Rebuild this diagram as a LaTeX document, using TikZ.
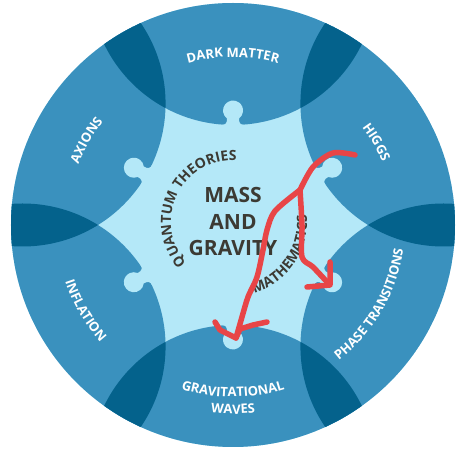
\documentclass[tikz,border=0pt]{standalone}
\usepackage{fontspec}
\setmainfont{Open Sans}
\usetikzlibrary{decorations.text}

\definecolor{lightblue}{HTML}{B4E8F8}
\definecolor{midblue}{HTML}{3A91BE}
\definecolor{darkblue}{HTML}{04628C}
\definecolor{textgray}{HTML}{3C3A33}
\definecolor{penred}{HTML}{E84547}

\newcommand{\ringfont}{\fontsize{13}{15}\selectfont\bfseries}
\newcommand{\innerfont}{\fontsize{14}{16}\selectfont\bfseries}

\begin{document}
\begin{tikzpicture}[x=1pt,y=1pt]

  \tikzstyle{ringlabel}=[decorate,decoration={text along path,text align=center,text color=white}]
  \tikzstyle{innerlabel}=[decorate,decoration={text along path,text align=center,text color=textgray}]
  \tikzstyle{pen}=[draw=penred,line width=5.5pt,line cap=round,line join=round]
  \tikzset{knob/.pic={
    \fill[lightblue] (-12,-6) -- (-12,0) .. controls (-7,0) and (-6,2) .. (-6,6.5)
      arc[start angle=233,end angle=-53,radius=10pt] .. controls (6,2) and (7,0) .. (12,0) -- (12,-6) -- cycle;
  }}

  \useasboundingbox (-233,-224) rectangle (225,225);
  \fill[white] (-233,-224) rectangle (225,225);

  % ring of six overlapping discs
  \begin{scope}
    \clip (0,0) circle[radius=222pt];
    \fill[lightblue] (0,0) circle[radius=222pt];
    \foreach \a in {30,90,...,330}
      \fill[midblue] (\a:243) circle[radius=143pt];
    \foreach \a in {30,90,...,330} {
      \begin{scope}
        \clip (\a:243) circle[radius=143pt];
        \fill[darkblue] ({\a+60}:243) circle[radius=143pt];
      \end{scope}
    }
    \foreach \a in {30,90,...,330}
      \pic[rotate=\a-90] at (\a:100) {knob};
  \end{scope}

  \path[ringlabel,decoration={text={|\ringfont|DARK MATTER}}] (130:168) arc[start angle=130,end angle=50,radius=168pt];
  \path[ringlabel,decoration={text={|\ringfont|HIGGS}}] (70:162) arc[start angle=70,end angle=-10,radius=162pt];
  \path[ringlabel,decoration={text={|\ringfont|AXIONS}}] (190:166) arc[start angle=190,end angle=110,radius=166pt];
  \path[ringlabel,decoration={text={|\ringfont|PHASE TRANSITIONS}}] (-80:172) arc[start angle=-80,end angle=20,radius=172pt];
  \path[ringlabel,decoration={text={|\ringfont|INFLATION}}] (160:177) arc[start angle=160,end angle=260,radius=177pt];
  \path[ringlabel,decoration={text={|\ringfont|GRAVITATIONAL}}] (230:172) arc[start angle=230,end angle=310,radius=172pt];
  \path[ringlabel,decoration={text={|\ringfont|WAVES}}] (240:189) arc[start angle=240,end angle=300,radius=189pt];

  \begin{scope}[shift={(0,3)}]
    \path[innerlabel,decoration={text={|\innerfont|QUANTUM THEORIES}}] (244:62) arc[start angle=244,end angle=64,radius=62pt];
    \path[innerlabel,decoration={text={|\innerfont|MATHEMATICS}}] (-105:74) arc[start angle=-105,end angle=37,radius=74pt];
  \end{scope}

  \node[align=center,text=textgray,font=\fontsize{21}{26.5}\selectfont\bfseries] (mass) at (0,3) {MASS\\AND\\GRAVITY};

  % red pen marks
  \coordinate (penstart) at (122,70);
  \coordinate (fork) at (67,35);
  \coordinate (tipA) at (3,-113);
  \coordinate (tipB) at (95,-58);
  \draw[pen] plot[smooth,tension=0.5] coordinates {(penstart) (100,72) (80,58) (fork)};
  \draw[pen] plot[smooth,tension=0.5] coordinates {(fork) (42,14) (34,-5) (30,-25) (24,-52) (15,-72) (9,-92) (tipA)};
  \draw[pen] (-18,-97) -- (-13,-105) -- (tipA) -- (7,-104) -- (20,-100) -- (34,-97);
  \draw[pen] plot[smooth,tension=0.5] coordinates {(fork) (69,0) (69,-32) (80,-42) (tipB)};
  \draw[pen] (97,-37) -- (97,-60) -- (74,-62);

\end{tikzpicture}
\end{document}
